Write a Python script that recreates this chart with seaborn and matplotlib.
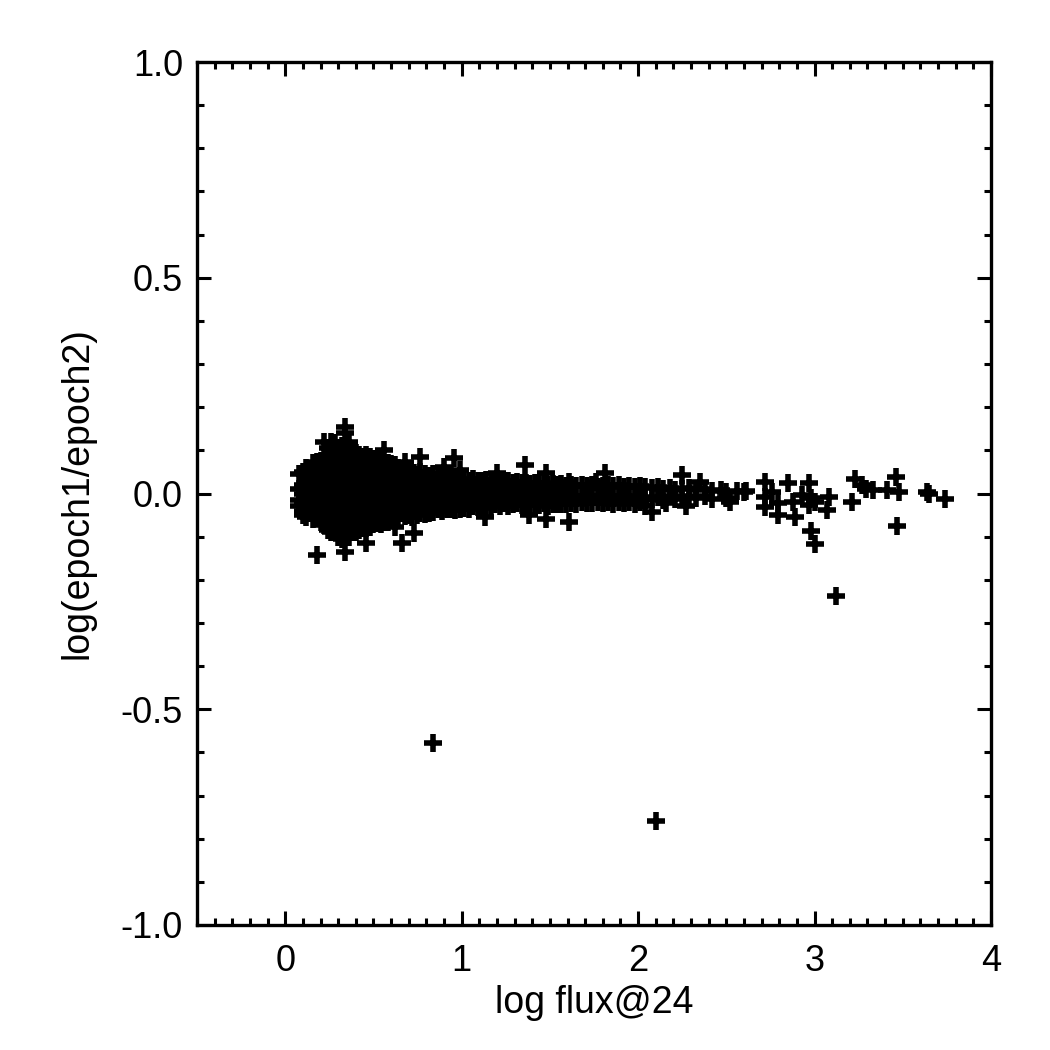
import matplotlib
matplotlib.use("Agg")
import matplotlib.pyplot as plt
import seaborn as sns
import pandas as pd
from matplotlib.ticker import MultipleLocator, FixedLocator, FixedFormatter

# ---- data: columns of log flux with the log ratios read at that flux ----
flux_cols = [
    0.08, 0.10, 0.12, 0.14, 0.16, 0.18, 0.20, 0.22,
    0.24, 0.26, 0.28, 0.30, 0.32, 0.34, 0.36, 0.38, 0.40, 0.42, 0.44, 0.46,
    0.48, 0.50, 0.52, 0.54, 0.56, 0.58, 0.60, 0.62, 0.64, 0.66, 0.68, 0.70,
    0.72, 0.73, 0.745, 0.765, 0.79, 0.815, 0.84, 0.865, 0.89, 0.90, 0.915,
    0.94, 0.955, 0.965, 0.99, 1.015, 1.04, 1.065, 1.09, 1.115, 1.13, 1.14,
    1.165, 1.19, 1.20, 1.215, 1.24, 1.265, 1.29, 1.315, 1.34, 1.36, 1.365,
    1.38, 1.39, 1.415, 1.44, 1.465, 1.48, 1.49, 1.515, 1.54, 1.565, 1.59,
    1.61, 1.62, 1.65, 1.68, 1.71, 1.74, 1.76, 1.77, 1.80, 1.81, 1.83, 1.86,
    1.89, 1.92, 1.95, 1.98, 2.01, 2.04, 2.08, 2.11, 2.14, 2.16, 2.18, 2.21,
    2.25, 2.27, 2.29, 2.33, 2.35, 2.38, 2.42, 2.47, 2.50, 2.52, 2.56, 2.60,
]
ratio_cols = [
    [0.045, 0.010, -0.015, -0.030],
    [0.050, 0.020, 0.000, -0.020, -0.040, -0.050],
    [0.060, 0.030, 0.005, -0.010, -0.035, -0.055],
    [0.050, 0.040, 0.015, -0.005, -0.025, -0.045],
    [0.070, 0.045, 0.025, 0.000, -0.020, -0.040, -0.060],
    [0.072, 0.050, 0.030, 0.010, -0.010, -0.030, -0.050, -0.143],
    [0.075, 0.055, 0.035, 0.015, -0.005, -0.025, -0.045, -0.065],
    [0.120, 0.080, 0.060, 0.040, 0.020, 0.000, -0.020, -0.040, -0.060, -0.072],
    [0.105, 0.080, 0.055, 0.030, 0.005, -0.020, -0.045, -0.070, -0.085],
    [0.120, 0.090, 0.065, 0.040, 0.015, -0.010, -0.035, -0.060, -0.090],
    [0.116, 0.085, 0.060, 0.035, 0.010, -0.015, -0.040, -0.065, -0.081],
    [0.105, 0.080, 0.055, 0.028, 0.003, -0.022, -0.048, -0.074, -0.100],
    [0.110, 0.085, 0.060, 0.035, 0.010, -0.015, -0.040, -0.065, -0.090, -0.105],
    [0.155, 0.140, 0.100, 0.075, 0.050, 0.025, 0.000, -0.025, -0.050, -0.075, -0.100, -0.135],
    [0.120, 0.095, 0.070, 0.045, 0.020, -0.005, -0.030, -0.055, -0.080, -0.100],
    [0.100, 0.075, 0.050, 0.025, 0.000, -0.025, -0.050, -0.070, -0.090],
    [0.095, 0.070, 0.045, 0.020, -0.005, -0.030, -0.055, -0.075, -0.090],
    [0.090, 0.065, 0.040, 0.015, -0.010, -0.035, -0.060, -0.085],
    [0.085, 0.060, 0.035, 0.010, -0.015, -0.040, -0.065, -0.080],
    [0.090, 0.065, 0.040, 0.015, -0.010, -0.035, -0.060, -0.080, -0.115],
    [0.085, 0.060, 0.035, 0.010, -0.015, -0.040, -0.062, -0.078],
    [0.080, 0.055, 0.030, 0.005, -0.020, -0.045, -0.070],
    [0.078, 0.052, 0.027, 0.002, -0.023, -0.048, -0.068],
    [0.075, 0.050, 0.025, 0.000, -0.025, -0.050, -0.070],
    [0.100, 0.070, 0.045, 0.020, -0.005, -0.030, -0.055, -0.065],
    [0.070, 0.045, 0.020, -0.005, -0.030, -0.055, -0.065],
    [0.068, 0.042, 0.017, -0.008, -0.033, -0.058],
    [0.065, 0.040, 0.015, -0.010, -0.035, -0.058, -0.077],
    [0.058, 0.033, 0.008, -0.017, -0.042, -0.060],
    [0.055, 0.030, 0.005, -0.020, -0.045, -0.115],
    [0.074, 0.048, 0.023, -0.002, -0.027, -0.052],
    [0.050, 0.025, 0.000, -0.025, -0.050],
    [0.045, 0.020, -0.005, -0.030, -0.055],
    [0.048, -0.092],
    [0.042, 0.017, -0.008, -0.033, -0.050],
    [0.085, 0.050, 0.025, 0.000, -0.025, -0.045],
    [0.045, 0.020, -0.005, -0.030, -0.048],
    [0.040, 0.015, -0.010, -0.035, -0.045],
    [0.045, 0.020, -0.005, -0.030, -0.042],
    [0.040, 0.015, -0.010, -0.035],
    [0.042, 0.017, -0.008, -0.033, -0.040],
    [0.062],
    [0.038, 0.013, -0.012, -0.037],
    [0.040, 0.015, -0.010, -0.035],
    [0.082],
    [0.036, 0.011, -0.014, -0.038],
    [0.054, 0.030, 0.005, -0.020, -0.035],
    [0.032, 0.007, -0.018, -0.033],
    [0.030, 0.005, -0.020, -0.035],
    [0.034, 0.009, -0.016, -0.030],
    [0.030, 0.005, -0.020, -0.032],
    [0.028, 0.003, -0.022, -0.030],
    [-0.054],
    [0.032, 0.007, -0.018, -0.028],
    [0.030, 0.005, -0.020, -0.030],
    [0.026, 0.001, -0.024],
    [0.047],
    [0.030, 0.005, -0.020, -0.030],
    [0.028, 0.003, -0.022],
    [0.030, 0.005, -0.020, -0.028],
    [0.025, 0.000, -0.025],
    [0.027, 0.002, -0.023],
    [0.024, -0.001, -0.026],
    [0.066],
    [0.025, 0.000, -0.025],
    [-0.050],
    [0.022, -0.003, -0.027],
    [0.025, 0.000, -0.025],
    [0.023, -0.002, -0.027],
    [0.025, 0.000, -0.022],
    [0.047, -0.058],
    [0.020, -0.005, -0.028],
    [0.022, -0.003, -0.025],
    [0.020, -0.005, -0.025],
    [0.022, -0.003, -0.024],
    [0.018, -0.007, -0.025],
    [0.027, -0.065],
    [0.020, -0.005, -0.022],
    [0.018, -0.007, -0.024],
    [0.020, -0.005, -0.020],
    [0.017, -0.008, -0.022],
    [0.020, -0.005, -0.023],
    [0.027],
    [0.016, -0.009, -0.020],
    [0.018, -0.007, -0.022],
    [0.047],
    [0.020, -0.005, -0.020],
    [0.017, -0.008, -0.025],
    [0.020, -0.005, -0.020],
    [0.016, -0.009, -0.022],
    [0.018, -0.006, -0.020],
    [0.015, -0.010, -0.025],
    [0.017, -0.007, -0.020],
    [0.014, -0.010, -0.028],
    [0.012, -0.012, -0.042],
    [0.015, -0.008],
    [0.010, -0.015],
    [-0.023],
    [0.012, -0.005],
    [0.008, -0.012],
    [0.043, 0.010, -0.008],
    [-0.030],
    [0.012, -0.005],
    [0.008, -0.010],
    [0.027],
    [0.010, -0.005],
    [0.006, -0.012],
    [0.008],
    [0.004, -0.010],
    [-0.019],
    [0.005],
    [0.004],
]

# sparse bright sources and outliers
flux_sparse = [2.61, 2.72, 2.72, 2.76, 2.72, 2.79, 2.79, 2.85, 2.89, 2.88,
               2.93, 2.97, 2.98, 3.00, 2.97, 3.08, 3.07, 2.98, 3.00, 3.12,
               3.21, 3.23, 3.27, 3.29, 3.33, 3.41, 3.46, 3.48, 3.47, 3.64,
               3.65, 3.74, 0.837, 2.10]
ratio_sparse = [0.006, 0.027, -0.007, 0.004, -0.031, -0.050, -0.023, 0.024, -0.054, -0.019,
                -0.003, 0.024, -0.011, -0.019, -0.027, -0.007, -0.038, -0.088, -0.117, -0.237,
                -0.020, 0.033, 0.020, 0.010, 0.008, 0.008, 0.039, 0.004, -0.075, 0.004,
                -0.001, -0.013, -0.578, -0.758]

xticks = [0, 1, 2, 3, 4]
xticklabels = ["0", "1", "2", "3", "4"]
yticks = [-1.0, -0.5, 0.0, 0.5, 1.0]
yticklabels = ["-1.0", "-0.5", "0.0", "0.5", "1.0"]

# ---- build table ----
xs, ys = [], []
for fx, col in zip(flux_cols, ratio_cols):
    for r in col:
        xs.append(fx)
        ys.append(r)
xs += flux_sparse
ys += ratio_sparse
df = pd.DataFrame({"log_flux": xs, "log_ratio": ys})

sns.set_style("ticks")
plt.rcParams["font.family"] = ["Liberation Sans", "DejaVu Sans"]
plt.rcParams["text.color"] = "black"
plt.rcParams["axes.labelcolor"] = "black"

fig = plt.figure(figsize=(10.5, 10.5), dpi=100)
ax = fig.add_axes([197 / 1050, 1 - 925 / 1050, (991 - 197) / 1050, (925 - 62) / 1050])

sns.scatterplot(data=df, x="log_flux", y="log_ratio", marker="+", color="black",
                s=160, linewidth=4.0, ax=ax, legend=False)

ax.set_xlim(-0.5, 4.0)
ax.set_ylim(-1.0, 1.0)
ax.xaxis.set_major_locator(FixedLocator(xticks))
ax.xaxis.set_major_formatter(FixedFormatter(xticklabels))
ax.yaxis.set_major_locator(FixedLocator(yticks))
ax.yaxis.set_major_formatter(FixedFormatter(yticklabels))
ax.xaxis.set_minor_locator(MultipleLocator(0.1))
ax.yaxis.set_minor_locator(MultipleLocator(0.1))

for s in ax.spines.values():
    s.set_visible(True)
    s.set_linewidth(2.4)
    s.set_color("black")

ax.tick_params(which="both", direction="in", top=True, right=True, color="black",
               width=2.2, labelsize=26, labelcolor="black")
ax.tick_params(which="major", length=10)
ax.tick_params(which="minor", length=5)
ax.tick_params(axis="x", which="major", pad=14)
ax.tick_params(axis="y", which="major", pad=10)

ax.set_xlabel("log flux@24", fontsize=27, labelpad=4, color="black")
ax.set_ylabel("log(epoch1/epoch2)", fontsize=27, labelpad=18, color="black")
ax.grid(False)

fig.savefig("out.png", dpi=100, facecolor="white")
